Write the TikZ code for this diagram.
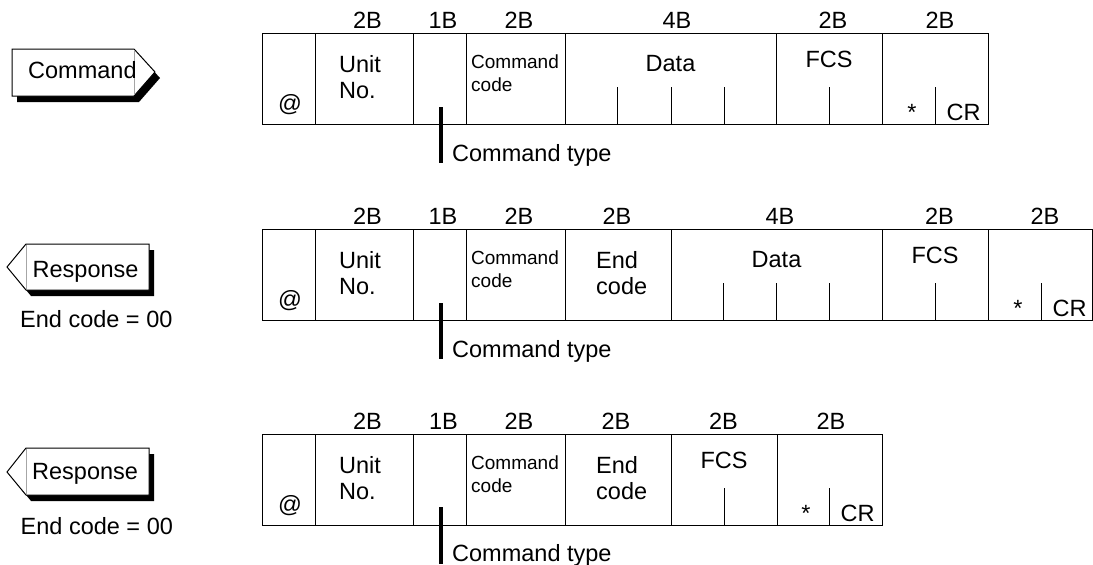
\documentclass[tikz,border=0pt]{standalone}
\usepackage{fontspec}
\setmainfont{Liberation Sans}
\newcommand\bigf{\fontsize{23.5}{28}\selectfont}
\newcommand\smallf{\fontsize{19}{22}\selectfont}
\begin{document}
\begin{tikzpicture}[x=1pt,y=-1pt,
  txt/.style={font=\bigf, inner sep=0pt, anchor=base},
  txtw/.style={font=\bigf, inner sep=0pt, anchor=base west},
  smw/.style={font=\smallf, inner sep=0pt, anchor=base west},
  cell/.style={line width=1pt},
  typeline/.style={line width=3.3pt},
  shapebox/.style={draw, fill=white, line width=1pt, line join=miter},
  shadowbox/.style={fill=black},
  seam/.style={black!35, line width=0.6pt}]
\useasboundingbox (0,0) rectangle (1093,565);

% ---------------- left tags ----------------
% Command
\fill[shadowbox] (17,55) -- (139,55) -- (160,78) -- (139,102) -- (17,102) -- cycle;
\draw[shapebox] (12,49) -- (134,49) -- (155,72) -- (134,96) -- (12,96) -- cycle;
\draw[seam] (134,50) -- (134,95);
\node[txtw] (cmdtag) at (28,78) {Command};

% Response 1
\fill[shadowbox] (31,250) -- (154,250) -- (154,296) -- (31,296) -- (12,273) -- cycle;
\draw[shapebox] (26,244) -- (149,244) -- (149,290) -- (26,290) -- (7,267) -- cycle;
\draw[seam] (26.5,245) -- (26.5,289);
\node[txtw] (resp1) at (32.5,277) {Response};
\node[txtw] (end1) at (20,327) {End code = 00};

% Response 2
\fill[shadowbox] (31,454) -- (154,454) -- (154,501) -- (31,501) -- (12,478) -- cycle;
\draw[shapebox] (26,448) -- (149,448) -- (149,495) -- (26,495) -- (7,472) -- cycle;
\draw[seam] (26.5,449) -- (26.5,494);
\node[txtw] (resp2) at (32,479) {Response};
\node[txtw] (end2) at (20.5,534) {End code = 00};

% ---------------- Row 1 (command) ----------------
\draw[cell] (262,33) rectangle (988,124);
\foreach \x in {315,413,466,565,776,882} \draw[cell] (\x,33) -- (\x,124);
\foreach \x in {617,671,724,829,935} \draw[cell] (\x,87) -- (\x,124);
\foreach \x/\t [count=\i] in {367.5/2B,443/1B,519/2B,677/4B,833/2B,940/2B}
  \node[txt] (a-size-\i) at (\x,28.5) {\t};
\node[txt] (a-at) at (290,111) {@};
\node[txtw] (a-unit) at (339,72) {Unit};
\node[txtw] (a-no) at (339,98.5) {No.};
\node[smw] (a-cc1) at (471,68) {Command};
\node[smw] (a-cc2) at (471,91) {code};
\node[txt] (a-data) at (670.5,71) {Data};
\node[txt] (a-fcs) at (829,67) {FCS};
\node[txt] (a-star) at (912,120) {*};
\node[txt] (a-cr) at (963.5,120) {CR};
\coordinate (a-ct-top) at (441,107);
\coordinate (a-ct-bot) at (441,163);
\draw[typeline] (a-ct-top) -- (a-ct-bot);
\node[txtw] (a-ct) at (452,161) {Command type};

% ---------------- Row 2 (response with data) ----------------
\draw[cell] (262,229) rectangle (1092,320);
\foreach \x in {315,413,466,565,671,882,988} \draw[cell] (\x,229) -- (\x,320);
\foreach \x in {723,776,829,935,1041} \draw[cell] (\x,283) -- (\x,320);
\foreach \x/\t [count=\i] in {367.5/2B,443/1B,519/2B,617/2B,780/4B,939.5/2B,1045/2B}
  \node[txt] (b-size-\i) at (\x,224.5) {\t};
\node[txt] (b-at) at (290,307) {@};
\node[txtw] (b-unit) at (339,268) {Unit};
\node[txtw] (b-no) at (339,294.5) {No.};
\node[smw] (b-cc1) at (471,264) {Command};
\node[smw] (b-cc2) at (471,287) {code};
\node[txtw] (b-end1) at (596,268) {End};
\node[txtw] (b-end2) at (596,294.5) {code};
\node[txt] (b-data) at (776.5,267) {Data};
\node[txt] (b-fcs) at (935,263) {FCS};
\node[txt] (b-star) at (1018,316) {*};
\node[txt] (b-cr) at (1069.5,316) {CR};
\coordinate (b-ct-top) at (441,303);
\coordinate (b-ct-bot) at (441,359);
\draw[typeline] (b-ct-top) -- (b-ct-bot);
\node[txtw] (b-ct) at (452,357) {Command type};

% ---------------- Row 3 (response without data) ----------------
\draw[cell] (262,434) rectangle (882,525);
\foreach \x in {315,413,466,565,671,777} \draw[cell] (\x,434) -- (\x,525);
\foreach \x in {724,829} \draw[cell] (\x,488) -- (\x,525);
\foreach \x/\t [count=\i] in {367.5/2B,443.5/1B,519/2B,616/2B,723.5/2B,831/2B}
  \node[txt] (c-size-\i) at (\x,429.5) {\t};
\node[txt] (c-at) at (290,512) {@};
\node[txtw] (c-unit) at (339,473) {Unit};
\node[txtw] (c-no) at (339,499.5) {No.};
\node[smw] (c-cc1) at (471,469) {Command};
\node[smw] (c-cc2) at (471,492) {code};
\node[txtw] (c-end1) at (596,473) {End};
\node[txtw] (c-end2) at (596,499.5) {code};
\node[txt] (c-fcs) at (724,468) {FCS};
\node[txt] (c-star) at (806,521) {*};
\node[txt] (c-cr) at (857.5,521) {CR};
\coordinate (c-ct-top) at (441,507);
\coordinate (c-ct-bot) at (441,564);
\draw[typeline] (c-ct-top) -- (c-ct-bot);
\node[txtw] (c-ct) at (452,561) {Command type};
\end{tikzpicture}
\end{document}
